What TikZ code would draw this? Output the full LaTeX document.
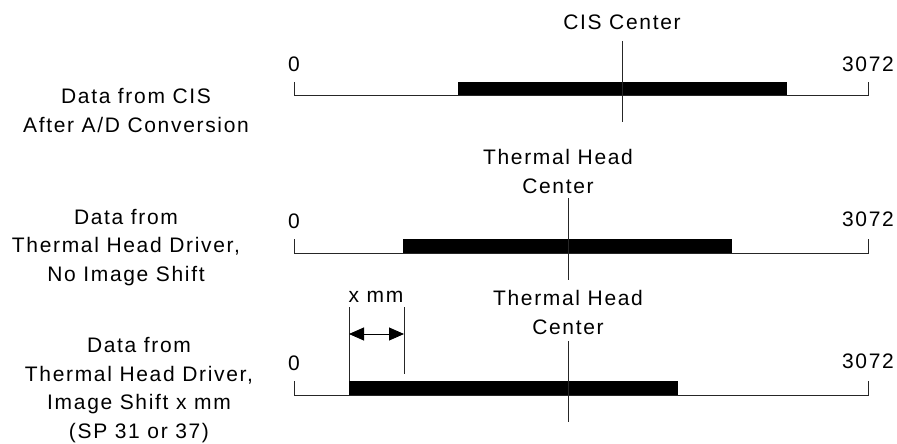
\documentclass[tikz,border=0pt]{standalone}
\usepackage{fontspec}
\setmainfont{Liberation Sans}[LetterSpace=8]
\usetikzlibrary{arrows.meta}
\begin{document}
\begin{tikzpicture}[x=1pt,y=-1pt,
  txt/.style={inner sep=0pt,font=\fontsize{21}{28.5}\selectfont,anchor=base,align=center},
  axis/.style={line width=0.9pt,black!85},
  cline/.style={line width=0.9pt,black!85},
  barfill/.style={fill=black},
  dim/.style={line width=0.9pt,{Triangle[length=15pt,width=13pt]}-{Triangle[length=15pt,width=13pt]}}]
\useasboundingbox (0,0) rectangle (897,444);
% ---------- row 1
\node[txt] (cisc) at (622,30) {CIS Center};
\node[txt] (z1) at (294,71) {0};
\node[txt] (e1) at (868,71) {3072};
\node[txt] (lab1) at (136,132) {Data from CIS\\After A/D Conversion};
\coordinate (a1l) at (294,95); \coordinate (a1lt) at (294,82);
\coordinate (a1r) at (868,95); \coordinate (a1rt) at (868,82);
\draw[axis] (a1lt) -- (a1l) -- (a1r) -- (a1rt);
\fill[barfill] (458,82) rectangle (787,95);
\coordinate (c1t) at (622,41); \coordinate (c1b) at (622,122);
\draw[cline] (c1t) -- (c1b);
% ---------- row 2
\node[txt] (th2) at (558,193) {Thermal Head\\Center};
\node[txt] (z2) at (294,228) {0};
\node[txt] (e2) at (868,226) {3072};
\node[txt] (lab2) at (126,281) {Data from\\Thermal Head Driver,\\No Image Shift};
\coordinate (a2l) at (294,253); \coordinate (a2lt) at (294,239);
\coordinate (a2r) at (868,253); \coordinate (a2rt) at (868,239);
\draw[axis] (a2lt) -- (a2l) -- (a2r) -- (a2rt);
\fill[barfill] (403,239) rectangle (732,253);
\coordinate (c2t) at (568,198); \coordinate (c2b) at (568,280);
\draw[cline] (c2t) -- (c2b);
% ---------- row 3
\node[txt] (xmm) at (376,302) {x mm};
\node[txt] (th3) at (568,334) {Thermal Head\\Center};
\node[txt] (z3) at (294,370) {0};
\node[txt] (e3) at (868,368) {3072};
\node[txt] (lab3) at (139,438) {Data from\\Thermal Head Driver,\\Image Shift x mm\\(SP 31 or 37)};
\coordinate (a3l) at (294,395); \coordinate (a3lt) at (294,381);
\coordinate (a3r) at (868,395); \coordinate (a3rt) at (868,381);
\draw[axis] (a3lt) -- (a3l) -- (a3r) -- (a3rt);
\fill[barfill] (349,381) rectangle (678,395);
\coordinate (c3t) at (568,341); \coordinate (c3b) at (568,422);
\draw[cline] (c3t) -- (c3b);
% dimension
\coordinate (d1t) at (349,307); \coordinate (d1b) at (349,381);
\coordinate (d2t) at (404,307); \coordinate (d2b) at (404,374);
\draw[cline] (d1t) -- (d1b);
\draw[cline] (d2t) -- (d2b);
\coordinate (da) at (349,334); \coordinate (db) at (404,334);
\draw[dim] (da) -- (db);
\end{tikzpicture}
\end{document}
